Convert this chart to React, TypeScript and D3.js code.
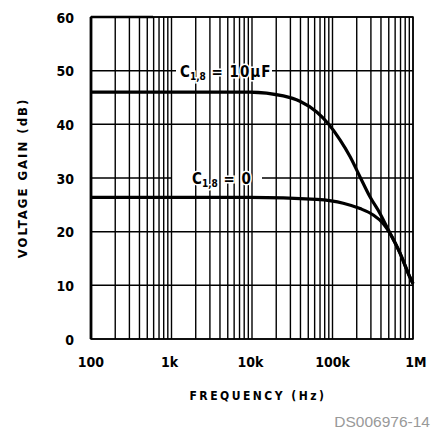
import * as d3 from "d3"

const yTicks = [0, 10, 20, 30, 40, 50, 60]
const xTicks = [100, 1000, 10000, 100000, 1000000]
const xTickLabels = ["100", "1k", "10k", "100k", "1M"]

// C1,8 = 10uF curve
const freqHigh = [100, 1000, 9400, 24500, 39400, 63700, 88700, 124000, 165000, 220000, 292000, 389000, 518000, 690000, 875000, 1000000]
const gainHigh = [46, 46, 46, 45.3, 44.3, 42.3, 40.1, 37.1, 34, 30.2, 26.5, 23.4, 19.7, 16, 12.2, 10.3]

// C1,8 = 0 curve
const freqLow = [100, 1000, 9400, 63700, 136000, 220000, 321000, 428000, 518000, 690000, 875000, 1000000]
const gainLow = [26.4, 26.4, 26.4, 26.0, 25.3, 24.3, 23.1, 21.5, 19.7, 16, 12.2, 10.3]

const font = "'DejaVu Sans Condensed', 'DejaVu Sans', sans-serif"

export default function App() {
    const left = 91, right = 413, top = 17, bottom = 339
    const x = d3.scaleLog().domain([100, 1000000]).range([left, right])
    const y = d3.scaleLinear().domain([0, 60]).range([bottom, top])

    // minor log grid: 2..9 in every decade
    const minor: number[] = []
    for (let dec = 100; dec < 1000000; dec *= 10) {
        for (let m = 2; m <= 9; m++) minor.push(dec * m)
    }

    const line = d3.line<[number, number]>()
        .x(d => x(d[0]))
        .y(d => y(d[1]))
        .curve(d3.curveMonotoneX)

    const highPath = line(freqHigh.map((f, i) => [f, gainHigh[i]])) || ""
    const lowPath = line(freqLow.map((f, i) => [f, gainLow[i]])) || ""

    const xShift = [0, -2, -1.5, 0, 3]

    return (
        <svg width={433} height={435} style={{ position: "absolute", left: 0, top: 0, background: "#fff" }}>
            {/* horizontal grid */}
            {yTicks.map(t => (
                <line key={"h" + t} x1={left} x2={right} y1={y(t)} y2={y(t)} stroke="#000" strokeWidth={1.5} />
            ))}
            {/* gaps for the curve labels */}
            <rect x={176} y={y(50) - 3} width={96} height={6} fill="#fff" />
            <rect x={172} y={y(30) - 3} width={90} height={6} fill="#fff" />

            {/* vertical grid */}
            {[...xTicks, ...minor].map(f => (
                <line key={"v" + f} x1={x(f)} x2={x(f)} y1={top} y2={bottom} stroke="#000" strokeWidth={1.4} />
            ))}

            {/* frame */}
            <rect x={left} y={top} width={right - left} height={bottom - top} fill="none" stroke="#000" strokeWidth={1.5} />
            <line x1={left} x2={left} y1={top} y2={bottom} stroke="#000" strokeWidth={2.8} />
            <line x1={left} x2={left + 62} y1={top} y2={top} stroke="#000" strokeWidth={2.5} />

            {/* curves */}
            <path d={highPath} fill="none" stroke="#000" strokeWidth={3.2} />
            <path d={lowPath} fill="none" stroke="#000" strokeWidth={3.2} />

            {/* curve labels */}
            <text x={180} y={y(50) + 6} fontFamily={font} fontWeight="bold" fontSize={15} fill="#000"
                stroke="#fff" strokeWidth={3} paintOrder="stroke">
                C<tspan fontSize={10} dy={3}>1,8</tspan><tspan dy={-3} letterSpacing={1}> = 10μF</tspan>
            </text>
            <text x={192} y={y(30) + 6} fontFamily={font} fontWeight="bold" fontSize={15} fill="#000"
                stroke="#fff" strokeWidth={3} paintOrder="stroke">
                C<tspan fontSize={10} dy={3}>1,8</tspan><tspan dy={-3} letterSpacing={1}> = 0</tspan>
            </text>

            {/* y ticks */}
            {yTicks.map(t => (
                <text key={"yt" + t} x={74} y={y(t) + 5.5} textAnchor="end" fontFamily={font} fontWeight="bold" fontSize={14}>{t}</text>
            ))}
            {/* x ticks */}
            {xTicks.map((f, i) => (
                <text key={"xt" + f} x={x(f) + xShift[i]} y={367} textAnchor="middle" fontFamily={font} fontWeight="bold" fontSize={14}>{xTickLabels[i]}</text>
            ))}

            {/* axis titles */}
            <text transform={`translate(27, ${(top + bottom) / 2}) rotate(-90)`} textAnchor="middle"
                fontFamily={font} fontWeight="bold" fontSize={13} letterSpacing={2}>VOLTAGE GAIN (dB)</text>
            <text x={258} y={400} textAnchor="middle" fontFamily={font} fontWeight="bold" fontSize={12} letterSpacing={2.5}>FREQUENCY (Hz)</text>
            <text x={430} y={427} textAnchor="end" fontFamily="'Liberation Sans', Arial, sans-serif" fontSize={15.5} fill="#999">DS006976-14</text>
        </svg>
    )
}
